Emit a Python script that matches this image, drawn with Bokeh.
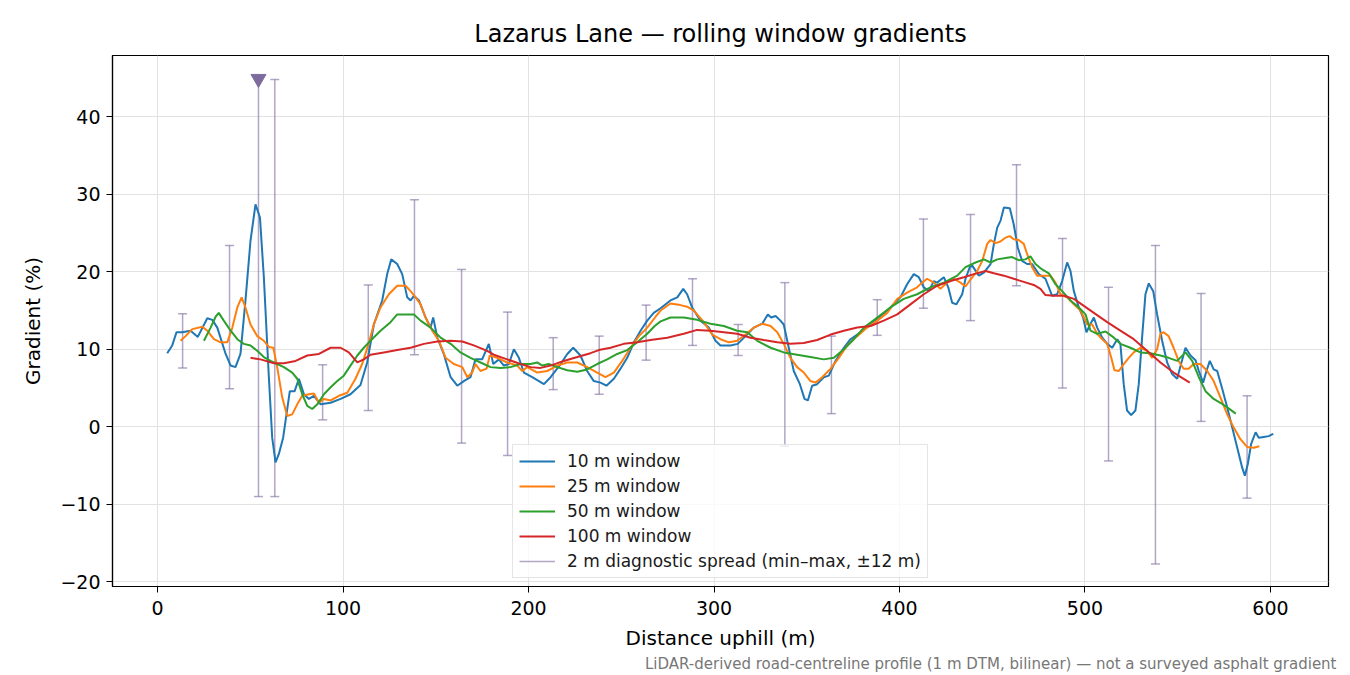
from bokeh.embed import file_html
from bokeh.models import (ColumnDataSource, FixedTicker, Legend, LegendItem,
                          Range1d, TeeHead, Title, Whisker)
from bokeh.plotting import figure
from bokeh.resources import INLINE

# ---- data ----
w10_x = [5.2, 7.9, 10.2, 13.3, 17.8, 21.7, 26.8, 29.5, 32.2, 36.7, 39.4, 42.0, 44.7, 47.4, 50.1, 52.8,
         55.2, 57.3, 60.0, 61.8, 63.6, 65.4, 67.7, 69.5, 71.3, 73.9, 76.2, 78.9, 81.6, 84.3, 87.9, 93.3,
         98.7, 104.0, 109.4, 113.0, 116.6, 121.1, 123.8, 126.0, 129.2, 131.9, 134.6, 136.4, 138.2, 140.9,
         144.5, 147.2, 148.6, 150.8, 154.3, 158.0, 161.6, 165.1, 168.7, 171.4, 175.0, 178.6, 181.0, 184.0,
         186.7, 189.4, 192.1, 194.8, 197.5, 202.0, 205.6, 208.3, 211.9, 217.3, 220.9, 224.1, 228.0, 231.6,
         235.2, 238.8, 242.0, 246.0, 249.6, 253.2, 256.8, 260.4, 264.0, 267.5, 271.2, 276.5, 280.2, 283.4,
         285.5, 288.2, 292.7, 297.2, 300.8, 303.5, 308.9, 312.8, 317.0, 321.5, 326.0, 329.0, 330.8, 333.2,
         335.8, 337.6, 340.3, 343.0, 346.3, 348.8, 350.6, 352.9, 355.6, 359.2, 361.9, 365.5, 370.0, 373.6,
         379.0, 384.4, 389.8, 395.1, 400.5, 404.1, 407.7, 410.4, 413.1, 415.8, 418.5, 420.3, 423.9, 426.3,
         428.4, 430.7, 433.8, 435.6, 437.9, 439.2, 442.8, 445.5, 449.1, 450.9, 452.7, 454.5, 456.3, 459.5,
         461.6, 463.8, 466.1, 468.8, 471.5, 475.1, 478.7, 482.3, 485.0, 487.7, 490.4, 492.2, 494.0, 496.7,
         499.0, 500.8, 503.0, 504.8, 506.6, 509.3, 512.0, 514.7, 517.4, 519.1, 520.9, 522.7, 524.9, 527.2,
         529.0, 530.8, 532.6, 534.4, 536.8, 538.9, 541.6, 544.3, 547.0, 549.7, 551.8, 554.2, 556.9, 559.6,
         561.4, 563.7, 565.5, 567.3, 569.4, 571.3, 574.0, 576.7, 579.4, 582.1, 584.8, 586.2, 587.8, 589.6,
         592.0, 593.7, 596.4, 599.1, 601.5]
w10_y = [9.5, 10.5, 12.2, 12.2, 12.4, 11.6, 14.0, 13.8, 12.8, 9.4, 7.9, 7.7, 9.4, 16.3, 24.0, 28.7,
         27.0, 19.3, 6.4, -1.4, -4.6, -3.5, -1.4, 1.6, 4.6, 4.6, 6.2, 4.2, 3.6, 4.0, 2.9, 3.1,
         3.6, 4.2, 5.4, 8.3, 13.2, 16.3, 19.7, 21.6, 21.0, 19.7, 16.7, 16.3, 16.9, 16.3,
         14.1, 12.8, 14.1, 11.5, 9.4, 6.4, 5.3, 5.9, 6.4, 8.7, 8.7, 10.7, 8.1, 8.7,
         7.9, 8.1, 10.0, 8.9, 7.0, 6.4, 5.9, 5.5, 6.4, 8.1, 9.4, 10.2, 9.2, 7.2,
         5.9, 5.7, 5.3, 6.2, 7.5, 8.9, 10.9, 12.4, 13.7, 14.7, 15.3, 16.3, 16.7, 17.8,
         17.1, 15.4, 13.7, 12.8, 11.1, 10.5, 10.5, 10.7, 11.7, 12.8, 13.3, 14.5, 14.1, 14.3,
         13.7, 13.2, 10.2, 7.2, 5.5, 3.6, 3.4, 5.3, 5.5, 6.4, 6.6, 8.5, 10.2, 11.3,
         12.2, 13.3, 14.3, 15.4, 16.7, 18.4, 19.7, 19.3, 18.0, 17.5, 18.8, 18.6, 19.3, 18.0,
         16.0, 15.8, 17.1, 19.1, 20.6, 20.8, 19.5, 19.9, 21.0, 23.6, 25.7, 26.6, 28.3, 28.2,
         26.1, 23.1, 21.4, 21.0, 21.0, 19.7, 19.1, 16.9, 17.1, 18.8, 21.2, 20.1, 17.5, 15.4,
         14.1, 12.2, 13.3, 14.1, 12.8, 11.5, 10.7, 10.2, 11.3, 10.7, 5.5, 2.1, 1.5, 2.1,
         5.5, 11.5, 17.1, 18.5, 17.5, 14.5, 11.1, 8.3, 6.8, 6.2, 8.1, 10.2, 9.2, 8.6,
         7.2, 5.7, 7.2, 8.5, 7.4, 7.2, 4.9, 2.5, -0.1, -2.7, -5.3, -6.3, -4.8, -2.2,
         -0.7, -1.4, -1.3, -1.2, -0.9]

w25_x = [12.4, 15.1, 18.7, 24.1, 26.8, 30.4, 34.0, 37.6, 40.3, 43.0, 45.3, 47.4, 50.1, 53.7, 57.3, 60.0,
         62.4, 64.5, 67.2, 69.9, 72.6, 75.3, 78.0, 81.6, 84.3, 87.0, 89.7, 93.3, 97.8, 102.3, 106.7, 110.3,
         113.5, 116.6, 120.2, 124.7, 129.2, 133.7, 136.4, 139.1, 141.8, 144.5, 148.1, 151.7, 155.3, 159.7,
         164.3, 167.0, 169.6, 171.4, 174.1, 177.4, 179.1, 183.1, 188.5, 193.9, 196.6, 199.3, 204.7, 210.1,
         215.5, 220.9, 226.3, 231.6, 237.0, 241.5, 246.0, 250.5, 255.0, 259.5, 264.0, 268.5, 271.2, 276.5,
         281.9, 285.5, 289.1, 294.5, 299.0, 303.5, 308.0, 312.5, 317.0, 321.5, 326.0, 330.5, 334.1, 337.6,
         341.2, 344.8, 348.4, 352.0, 354.7, 358.3, 362.9, 367.3, 371.8, 377.2, 382.6, 388.0, 393.4, 398.8,
         404.1, 409.5, 412.2, 414.9, 418.5, 422.1, 425.7, 429.3, 432.9, 435.6, 438.3, 441.9, 444.6, 447.3,
         449.1, 451.8, 454.4, 457.1, 459.5, 461.6, 464.3, 467.0, 468.8, 471.5, 474.2, 477.8, 481.4, 484.1,
         486.8, 490.4, 494.0, 497.6, 501.2, 503.9, 506.6, 509.3, 512.0, 514.2, 515.9, 518.3, 520.9, 523.6,
         526.3, 529.9, 533.5, 536.2, 538.9, 540.7, 542.4, 545.1, 547.8, 550.5, 553.2, 555.9, 558.6, 562.3,
         565.9, 569.4, 573.0, 576.7, 580.2, 583.8, 587.4, 591.0, 594.0]
w25_y = [11.1, 11.7, 12.6, 12.9, 12.4, 11.3, 10.9, 10.9, 12.8, 15.4, 16.7, 15.4, 13.2, 11.7, 11.1, 10.3,
         10.2, 7.7, 3.8, 1.4, 1.6, 2.9, 4.0, 4.2, 4.3, 3.1, 3.6, 3.4, 4.0, 4.4, 6.2, 8.1,
         10.5, 13.2, 15.4, 17.1, 18.2, 18.2, 17.5, 16.7, 15.8, 14.1, 12.4, 11.1, 8.9, 8.1,
         7.7, 6.4, 7.0, 8.1, 7.2, 7.5, 9.2, 8.9, 8.3, 7.9, 7.2, 7.7, 7.0, 7.2,
         7.9, 8.3, 8.3, 7.7, 7.0, 6.4, 7.0, 8.5, 10.2, 11.7, 12.8, 14.2, 15.0, 15.9,
         15.7, 15.5, 15.0, 13.5, 11.9, 11.3, 10.9, 11.1, 11.9, 12.8, 13.3, 13.0, 12.2, 10.7,
         8.9, 7.7, 7.0, 5.9, 5.7, 6.4, 7.5, 8.9, 10.5, 11.7, 12.8, 13.7, 14.7, 16.5,
         17.3, 18.0, 18.6, 19.1, 18.6, 17.8, 18.6, 19.1, 18.6, 18.1, 19.0, 20.1, 21.4, 23.6,
         24.1, 23.7, 23.9, 24.4, 24.6, 24.2, 24.1, 23.6, 22.3, 20.6, 19.5, 19.5, 19.5, 18.6,
         17.1, 16.7, 15.8, 15.0, 13.2, 13.2, 12.0, 11.3, 10.7, 8.9, 7.3, 7.2, 8.1, 8.9,
         9.6, 10.2, 9.8, 8.9, 10.0, 12.0, 12.2, 11.7, 10.2, 8.5, 7.5, 7.5, 8.1, 8.1,
         7.2, 5.9, 3.8, 1.6, -0.1, -1.6, -2.6, -2.7, -2.5]

w50_x = [25.0, 28.6, 31.3, 33.0, 35.7, 39.4, 43.0, 46.5, 50.1, 53.7, 57.3, 60.9, 64.5, 68.1, 72.6, 75.3,
         78.0, 80.7, 83.4, 86.1, 89.7, 93.3, 96.9, 100.4, 104.0, 107.7, 111.2, 114.8, 120.2, 125.6, 129.2,
         132.8, 138.2, 141.8, 147.2, 152.6, 158.0, 163.3, 168.7, 174.1, 179.5, 184.9, 190.3, 195.7, 201.1,
         204.7, 207.4, 210.9, 215.5, 220.9, 226.3, 231.6, 237.0, 242.4, 247.8, 253.2, 258.6, 264.0, 268.0,
         271.2, 276.5, 283.7, 290.9, 298.1, 305.3, 312.5, 317.9, 323.3, 330.5, 337.6, 344.8, 352.0, 359.2,
         364.6, 370.0, 375.4, 380.8, 388.0, 395.1, 402.3, 409.5, 416.7, 423.9, 431.1, 435.6, 441.0, 445.5,
         449.1, 452.7, 458.0, 460.7, 464.3, 467.9, 470.6, 473.3, 476.9, 480.5, 484.1, 487.7, 492.2, 496.7,
         500.3, 503.0, 506.6, 511.1, 515.6, 519.1, 524.5, 529.9, 535.3, 540.7, 545.1, 549.7, 554.2, 557.8,
         561.4, 565.0, 569.4, 573.0, 576.7, 581.3]
w50_y = [11.1, 12.8, 14.2, 14.7, 13.7, 12.4, 11.3, 10.7, 10.5, 9.8, 9.0, 8.5, 8.1, 7.7, 7.0, 6.2,
         4.2, 2.7, 2.3, 2.9, 4.2, 5.1, 5.9, 6.6, 7.9, 9.2, 10.2, 11.1, 12.4, 13.5, 14.5,
         14.5, 14.5, 13.7, 12.8, 11.5, 10.7, 9.6, 8.9, 8.3, 7.7, 7.6, 7.7, 8.1, 8.1,
         8.3, 7.9, 8.1, 7.7, 7.3, 7.1, 7.4, 8.1, 8.7, 9.4, 9.9, 10.9, 12.0, 13.0,
         13.6, 14.1, 14.1, 13.8, 13.3, 13.0, 12.4, 12.2, 11.1, 10.2, 9.6, 9.3, 9.0, 8.7,
         8.9, 10.0, 11.3, 12.8, 14.1, 15.4, 16.5, 17.1, 18.0, 18.6, 19.5, 20.6, 21.2, 21.6,
         21.2, 21.6, 21.8, 21.9, 21.5, 21.6, 22.0, 21.0, 20.3, 19.8, 18.4, 17.5, 16.3, 15.4,
         14.5, 12.4, 12.0, 12.3, 11.5, 10.7, 10.2, 9.6, 9.5, 9.2, 8.9, 8.5, 9.6, 8.5,
         6.4, 4.6, 3.6, 3.1, 2.5, 1.7]

w100_x = [50.1, 55.5, 62.7, 68.1, 74.4, 80.7, 87.0, 93.3, 98.7, 103.1, 107.7, 111.2, 114.8, 122.0, 129.2,
          136.4, 143.6, 150.8, 158.0, 164.3, 170.5, 177.7, 181.3, 188.5, 195.7, 201.1, 206.5, 211.9, 219.0,
          226.3, 233.4, 237.9, 244.2, 251.4, 258.6, 265.8, 274.8, 283.7, 290.9, 298.1, 305.3, 312.5, 319.7,
          326.8, 334.1, 341.2, 348.4, 355.6, 362.9, 370.0, 377.2, 384.4, 391.5, 398.8, 405.9, 413.1, 420.3,
          427.5, 434.7, 440.1, 446.4, 450.9, 456.3, 461.6, 467.0, 472.4, 476.0, 478.7, 483.2, 488.6, 494.0,
          499.4, 504.8, 512.0, 519.1, 526.3, 533.5, 540.7, 547.8, 556.5]
w100_y = [8.9, 8.7, 8.2, 8.2, 8.5, 9.2, 9.4, 10.2, 10.2, 9.6, 8.3, 8.7, 9.3, 9.6, 9.9,
          10.2, 10.7, 11.0, 11.1, 11.0, 10.5, 9.8, 9.3, 8.7, 8.1, 7.7, 7.6, 7.9, 8.5,
          9.0, 9.5, 9.9, 10.2, 10.7, 10.9, 11.2, 11.5, 12.0, 12.5, 12.4, 12.2, 12.0, 11.5,
          11.2, 10.9, 10.7, 10.8, 11.2, 11.9, 12.4, 12.8, 13.0, 13.7, 14.5, 15.8, 17.1, 18.2,
          18.8, 19.3, 19.7, 20.1, 19.8, 19.5, 19.1, 18.7, 18.3, 17.8, 17.0, 16.9, 16.9, 16.5,
          15.6, 14.7, 13.5, 12.4, 11.3, 9.8, 8.3, 7.0, 5.7]

spread_x = [13.5, 38.8, 54.4, 63.2, 89.0, 113.6, 138.5, 163.9, 188.7, 213.3, 238.1, 263.4, 288.4,
            313.0, 338.2, 363.3, 388.0, 412.9, 438.3, 463.1, 487.9, 512.7, 538.0, 562.6, 587.4]
spread_lo = [7.6, 4.9, -9.0, -9.0, 0.9, 2.1, 9.3, -2.1, -3.7, 4.8, 4.2, 8.6, 10.5,
             9.2, -2.5, 1.7, 11.8, 15.3, 13.7, 18.2, 5.0, -4.4, -17.7, 0.7, -9.2]
spread_hi = [14.6, 23.4, 44.9, 44.8, 8.0, 18.3, 29.3, 20.3, 14.8, 11.5, 11.7, 15.7, 19.1,
             13.2, 18.6, 11.7, 16.4, 26.8, 27.4, 33.8, 24.3, 18.0, 23.4, 17.2, 4.0]

peak_x = [54.4]
peak_y = [44.9]

FONT = "DejaVu Sans"
SPREAD_COLOR = "#7d6b9e"

p = figure(width=1350, height=675, output_backend="svg", toolbar_location=None,
           x_range=Range1d(-24.3, 631.3), y_range=Range1d(-20.6, 47.9),
           min_border_left=112, min_border_right=22, min_border_top=55, min_border_bottom=89,
           title="Lazarus Lane — rolling window gradients")

p.title.text_font = FONT
p.title.text_font_size = "24px"
p.title.text_font_style = "normal"
p.title.align = "center"
p.title.text_color = "black"
p.title.standoff = 15

p.outline_line_color = "black"
p.outline_line_width = 1.2
p.background_fill_color = "white"
p.border_fill_color = "white"

# grid
p.grid.grid_line_color = "#e2e2e2"
p.grid.grid_line_width = 1

# axes
p.xaxis.ticker = FixedTicker(ticks=[0, 100, 200, 300, 400, 500, 600])
p.yaxis.ticker = FixedTicker(ticks=[-20, -10, 0, 10, 20, 30, 40])
p.yaxis.major_label_overrides = {-20: "\u221220", -10: "\u221210"}
p.xaxis.axis_label = "Distance uphill (m)"
p.yaxis.axis_label = "Gradient (%)"
for ax in (p.xaxis, p.yaxis):
    ax.axis_label_text_font = FONT
    ax.axis_label_text_font_size = "20px"
    ax.axis_label_text_font_style = "normal"
    ax.axis_label_text_color = "black"
    ax.major_label_text_font = FONT
    ax.major_label_text_font_size = "19px"
    ax.major_label_text_color = "black"
    ax.axis_line_color = "black"
    ax.axis_line_width = 1.2
    ax.major_tick_line_color = "black"
    ax.major_tick_in = 0
    ax.major_tick_out = 6
    ax.minor_tick_line_color = None
p.xaxis.major_label_standoff = 8
p.xaxis.axis_label_standoff = 8
p.yaxis.major_label_standoff = 6
p.yaxis.axis_label_standoff = 12

# diagnostic spread bars
spread_src = ColumnDataSource(dict(x=spread_x, lo=spread_lo, hi=spread_hi))
bars = Whisker(source=spread_src, base="x", upper="hi", lower="lo", dimension="height",
               line_color=SPREAD_COLOR, line_alpha=0.6, line_width=1.5,
               upper_head=TeeHead(size=9, line_color=SPREAD_COLOR, line_alpha=0.6, line_width=1.5),
               lower_head=TeeHead(size=9, line_color=SPREAD_COLOR, line_alpha=0.6, line_width=1.5))
p.add_layout(bars)

# legend key for the bars: a vertical span placed outside the visible range
spread_key = p.vspan(x=[-1000], line_color=SPREAD_COLOR, line_alpha=0.6, line_width=1.5)

# rolling window lines
l10 = p.line(w10_x, w10_y, line_color="#1f77b4", line_width=2)
l25 = p.line(w25_x, w25_y, line_color="#ff7f0e", line_width=2)
l50 = p.line(w50_x, w50_y, line_color="#2ca02c", line_width=2)
l100 = p.line(w100_x, w100_y, line_color="#d62728", line_width=2)

# steepest-point marker
p.scatter(peak_x, peak_y, marker="inverted_triangle", size=15,
          fill_color=SPREAD_COLOR, line_color=SPREAD_COLOR)

legend = Legend(items=[
    LegendItem(label="10 m window", renderers=[l10]),
    LegendItem(label="25 m window", renderers=[l25]),
    LegendItem(label="50 m window", renderers=[l50]),
    LegendItem(label="100 m window", renderers=[l100]),
    LegendItem(label="2 m diagnostic spread (min\u2013max, \u00b112 m)", renderers=[spread_key]),
], location=(400, 8))
legend.label_text_font = FONT
legend.label_text_font_size = "17px"
legend.label_text_color = "#1a1a1a"
legend.glyph_width = 36
legend.glyph_height = 14
legend.label_height = 20
legend.spacing = 5
legend.padding = 6
legend.margin = 0
legend.label_standoff = 12
legend.border_line_color = "#cccccc"
legend.border_line_width = 1
legend.background_fill_alpha = 0.8
p.add_layout(legend)

note = Title(text="LiDAR-derived road-centreline profile (1 m DTM, bilinear) \u2014 not a surveyed asphalt gradient",
             align="right", text_font=FONT, text_font_size="15px", text_font_style="normal",
             text_color="#777777", standoff=0, offset=-8)
p.add_layout(note, "below")

open("out.html", "w").write(file_html(p, INLINE))
